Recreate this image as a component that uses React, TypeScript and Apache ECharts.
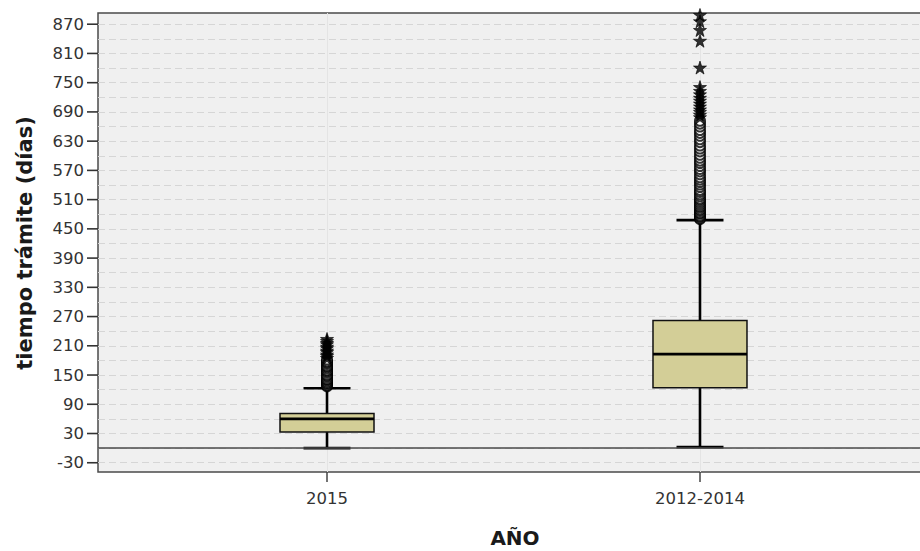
import React, { useEffect, useRef } from "react";
import * as echarts from "echarts";

const CATEGORIES = ["2015", "2012-2014"];
const WHISKER_LOW = [0, 2];
const Q1 = [33, 124];
const MEDIAN = [60, 193];
const Q3 = [71, 262];
const WHISKER_HIGH = [123, 468];

const OUTLIERS_2015 = [127, 129, 132, 134, 137, 140, 142, 146, 149, 151, 155, 158, 160, 164, 167, 169, 173, 176, 178, 182];
const EXTREMES_2015 = [185, 189, 192, 197, 200, 205, 208, 213, 216, 220, 224];
const OUTLIERS_2012_2014 = [470, 472, 475, 477, 481, 483, 487, 490, 494, 497, 501, 505, 509, 512, 517, 521, 526, 530, 536, 541, 546, 551, 556, 562, 568, 573, 579, 585, 590, 596, 602, 609, 615, 621, 628, 634, 641, 647, 653, 660, 666, 672];
const EXTREMES_2012_2014 = [679, 684, 690, 695, 701, 707, 713, 719, 726, 733, 741, 781, 836, 858, 876, 889];

const Y_TICKS = [-30, 30, 90, 150, 210, 270, 330, 390, 450, 510, 570, 630, 690, 750, 810, 870];
const Y_GRID = [-30, 0, 30, 60, 90, 120, 150, 180, 210, 240, 270, 300, 330, 360, 390, 420, 450, 480, 510, 540, 570, 600, 630, 660, 690, 720, 750, 780, 810, 840, 870];
const X_TICKS = [0, 1];

const X_MIN = -0.614;
const X_MAX = 1.614;
const Y_MIN = -49;
const Y_MAX = 893;
const BOX_WIDTH = 0.252;
const CAP_WIDTH = 0.126;
const BOX_COLOR = "#D3CE97";
const FONT = "DejaVu Sans";
const LABEL_SIZE = 16.5;
const TICK_LEN = 11;
const LABEL_GAP = 14;
const STAR = "path://M50,0 L61.8,35.3 L98.5,35.3 L68.8,57 L80,92 L50,70.5 L20,92 L31.2,57 L1.5,35.3 L38.2,35.3 Z";

// approximate DejaVu Sans advance widths (em) for tick label glyphs
const labelWidth = (s: string) =>
  s.split("").reduce((w, ch) => w + (ch === "-" ? 0.361 : 0.636), 0) * LABEL_SIZE;

export default function App() {
  const ref = useRef<HTMLDivElement>(null);

  useEffect(() => {
    if (!ref.current) return;
    const chart = echarts.init(ref.current, null, { renderer: "svg" });

    const boxData = CATEGORIES.map((_, i) => [i, WHISKER_LOW[i], Q1[i], MEDIAN[i], Q3[i], WHISKER_HIGH[i]]);

    const renderBox = (params: any, api: any) => {
      const x = api.value(0);
      const pLow = api.coord([x, api.value(1)]);
      const pQ1 = api.coord([x, api.value(2)]);
      const pMed = api.coord([x, api.value(3)]);
      const pQ3 = api.coord([x, api.value(4)]);
      const pHigh = api.coord([x, api.value(5)]);
      const half = api.size([BOX_WIDTH, 0])[0] / 2;
      const capHalf = api.size([CAP_WIDTH, 0])[0] / 2;
      const cx = pMed[0];
      const lineStyle = { stroke: "#000", lineWidth: 2.6 };
      return {
        type: "group",
        children: [
          { type: "line", shape: { x1: cx, y1: pLow[1], x2: cx, y2: pQ1[1] }, style: lineStyle },
          { type: "line", shape: { x1: cx - capHalf, y1: pLow[1], x2: cx + capHalf, y2: pLow[1] }, style: lineStyle },
          { type: "line", shape: { x1: cx, y1: pHigh[1], x2: cx, y2: pQ3[1] }, style: lineStyle },
          { type: "line", shape: { x1: cx - capHalf, y1: pHigh[1], x2: cx + capHalf, y2: pHigh[1] }, style: lineStyle },
          {
            type: "rect",
            shape: { x: cx - half, y: pQ3[1], width: half * 2, height: pQ1[1] - pQ3[1] },
            style: { fill: BOX_COLOR, stroke: "#111", lineWidth: 1.5 },
          },
          { type: "line", shape: { x1: cx - half, y1: pMed[1], x2: cx + half, y2: pMed[1] }, style: { stroke: "#000", lineWidth: 2.8 } },
        ],
      };
    };

    const renderYTick = (params: any, api: any) => {
      const v = api.value(1);
      const p = api.coord([api.value(0), v]);
      const left = params.coordSys.x;
      const text = String(v);
      return {
        type: "group",
        children: [
          {
            type: "line",
            shape: { x1: left - TICK_LEN, y1: p[1], x2: left, y2: p[1] },
            style: { stroke: "#333", lineWidth: 1.6 },
          },
          {
            type: "text",
            x: left - LABEL_GAP - labelWidth(text) / 2,
            y: p[1],
            style: {
              text,
              font: `${LABEL_SIZE}px "${FONT}"`,
              fill: "#333",
              align: "center",
              verticalAlign: "middle",
            },
          },
        ],
      };
    };

    const circleStyle = {
      symbol: "emptyCircle",
      symbolSize: 10,
      itemStyle: { color: "#000", borderColor: "#000", borderWidth: 2.8 },
    };
    const starStyle = {
      symbol: STAR,
      symbolSize: 13,
      itemStyle: { color: "#000", borderColor: "#000", borderWidth: 0.8 },
    };

    chart.setOption({
      animation: false,
      backgroundColor: "#fff",
      grid: {
        left: 98,
        right: -9,
        top: 13,
        bottom: 79,
        outerBoundsMode: "none",
        containLabel: false,
        show: true,
        backgroundColor: "#f0f0f0",
        borderColor: "#4a4a4a",
        borderWidth: 1.5,
      },
      xAxis: {
        type: "value",
        min: X_MIN,
        max: X_MAX,
        axisLine: { show: false, onZero: false },
        axisTick: { show: true, customValues: X_TICKS, length: 10, lineStyle: { color: "#444", width: 1.5 } },
        axisLabel: {
          customValues: X_TICKS,
          formatter: (v: number) => CATEGORIES[Math.round(v)] ?? "",
          margin: 18,
          fontFamily: FONT,
          fontSize: LABEL_SIZE,
          color: "#333",
        },
        splitLine: { show: true, lineStyle: { color: "#e4e4e4", width: 1 } },
      },
      yAxis: {
        type: "value",
        min: Y_MIN,
        max: Y_MAX,
        axisLine: { show: false, onZero: false },
        axisTick: { show: false, customValues: Y_GRID },
        axisLabel: { show: false },
        splitLine: { show: true, lineStyle: { color: "#d6d6d6", width: 1, type: [7, 4] } },
      },
      series: [
        {
          type: "custom",
          renderItem: renderYTick,
          data: Y_TICKS.map((v) => [X_MIN, v]),
          encode: { x: 0, y: 1 },
          clip: false,
          silent: true,
          z: 1,
        },
        {
          type: "custom",
          renderItem: renderBox,
          data: boxData,
          encode: { x: 0, y: [1, 2, 3, 4, 5] },
          z: 3,
          silent: true,
        },
        {
          type: "scatter",
          data: [],
          silent: true,
          markLine: {
            silent: true,
            symbol: ["none", "none"],
            label: { show: false },
            lineStyle: { color: "#4a4a4a", width: 1.5, type: "solid" },
            data: [{ yAxis: 0 }],
          },
          z: 2,
        },
        { type: "scatter", data: OUTLIERS_2015.map((v) => [0, v]), ...circleStyle, clip: false, z: 4, silent: true },
        { type: "scatter", data: OUTLIERS_2012_2014.map((v) => [1, v]), ...circleStyle, clip: false, z: 4, silent: true },
        { type: "scatter", data: EXTREMES_2015.map((v) => [0, v]), ...starStyle, clip: false, z: 5, silent: true },
        { type: "scatter", data: EXTREMES_2012_2014.map((v) => [1, v]), ...starStyle, clip: false, z: 5, silent: true },
      ],
      graphic: [
        {
          type: "text",
          x: 25,
          y: 243,
          rotation: Math.PI / 2,
          style: {
            text: "tiempo trámite (días)",
            font: `bold 21px "${FONT}"`,
            fill: "#1a1a1a",
            align: "center",
            verticalAlign: "middle",
          },
        },
        {
          type: "text",
          x: 515,
          y: 538,
          style: {
            text: "AÑO",
            font: `bold 20px "${FONT}"`,
            fill: "#1a1a1a",
            align: "center",
            verticalAlign: "middle",
          },
        },
      ],
    });

    return () => chart.dispose();
  }, []);

  return (
    <div
      ref={ref}
      style={{ position: "absolute", left: 0, top: 0, width: 920, height: 551 }}
    />
  );
}
